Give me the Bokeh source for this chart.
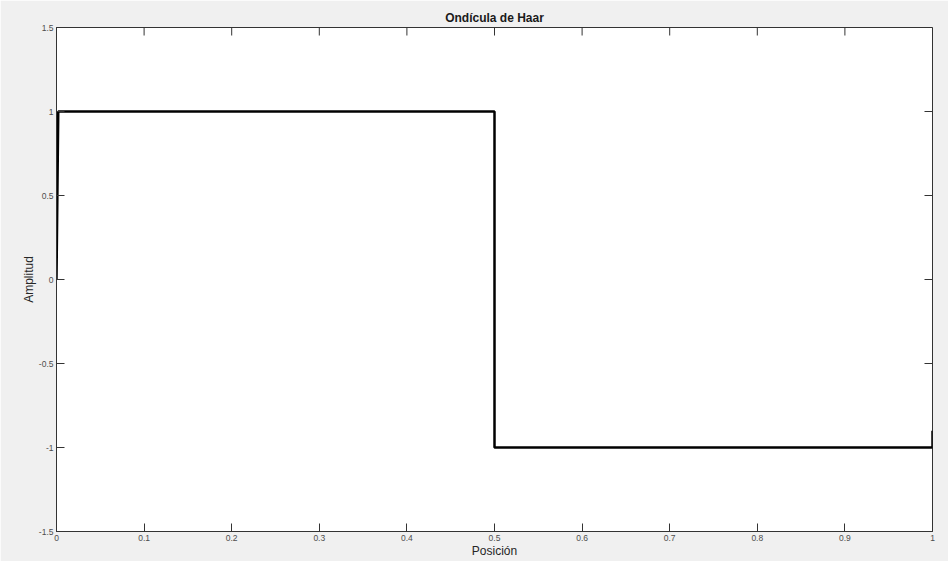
import math
from bokeh.plotting import figure
from bokeh.models import FixedTicker, Range1d
from bokeh.embed import file_html
from bokeh.resources import INLINE

# Haar wavelet samples (position, amplitude)
pos = [0.0, 0.002, 0.5, 0.5, 1.0, 1.0]
amp = [0.0, 1.0, 1.0, -1.0, -1.0, -0.9]

x_ticks = [0, 0.1, 0.2, 0.3, 0.4, 0.5, 0.6, 0.7, 0.8, 0.9, 1]
y_ticks = [-1.5, -1, -0.5, 0, 0.5, 1, 1.5]
x_labels = {0: "0", 0.1: "0.1", 0.2: "0.2", 0.3: "0.3", 0.4: "0.4", 0.5: "0.5",
            0.6: "0.6", 0.7: "0.7", 0.8: "0.8", 0.9: "0.9", 1: "1"}
y_labels = {-1.5: "-1.5", -1: "-1", -0.5: "-0.5", 0: "0", 0.5: "0.5", 1: "1", 1.5: "1.5"}
x_min, x_max = 0, 1
y_min, y_max = -1.5, 1.5

BG = "#f0f0f0"
AX = "#333333"
FONT = "Liberation Sans"

p = figure(width=948, height=561, output_backend="svg", toolbar_location=None,
           x_range=Range1d(x_min, x_max), y_range=Range1d(y_min, y_max),
           title="Ondícula de Haar", x_axis_label="Posición", y_axis_label="Amplitud",
           min_border_left=56, min_border_right=16, min_border_top=27, min_border_bottom=30)

p.background_fill_color = "white"
p.border_fill_color = BG
p.outline_line_color = AX
p.grid.visible = False

p.title.text_font = FONT
p.title.text_font_size = "12px"
p.title.text_font_style = "bold"
p.title.align = "center"
p.title.text_color = "#1a1a1a"
p.title.offset = 0
p.title.standoff = 6

def style_axis(ax, ticks, labels):
    ax.ticker = FixedTicker(ticks=ticks)
    ax.major_label_overrides = labels
    ax.major_tick_in = 8
    ax.major_tick_out = 0
    ax.minor_tick_line_color = None
    ax.axis_line_color = AX
    ax.major_tick_line_color = AX
    ax.major_label_text_font = FONT
    ax.major_label_text_font_size = "8.5px"
    ax.major_label_text_color = "#4d4d4d"
    ax.major_label_standoff = 3
    ax.axis_label_text_font = FONT
    ax.axis_label_text_font_size = "12px"
    ax.axis_label_text_font_style = "normal"
    ax.axis_label_text_color = "#262626"
    ax.axis_label_standoff = 0

style_axis(p.xaxis[0], x_ticks, x_labels)
style_axis(p.yaxis[0], y_ticks, y_labels)

# box ticks on top and right edges (inward, 8 px long)
p.ray(x=x_ticks, y=[y_max] * len(x_ticks), length=8, length_units="screen",
      angle=-math.pi / 2, line_color=AX, line_width=1)
p.ray(x=[x_max] * len(y_ticks), y=y_ticks, length=8, length_units="screen",
      angle=math.pi, line_color=AX, line_width=1)

p.line(pos, amp, line_color="black", line_width=2.5)

open("out.html", "w").write(file_html(p, INLINE))
